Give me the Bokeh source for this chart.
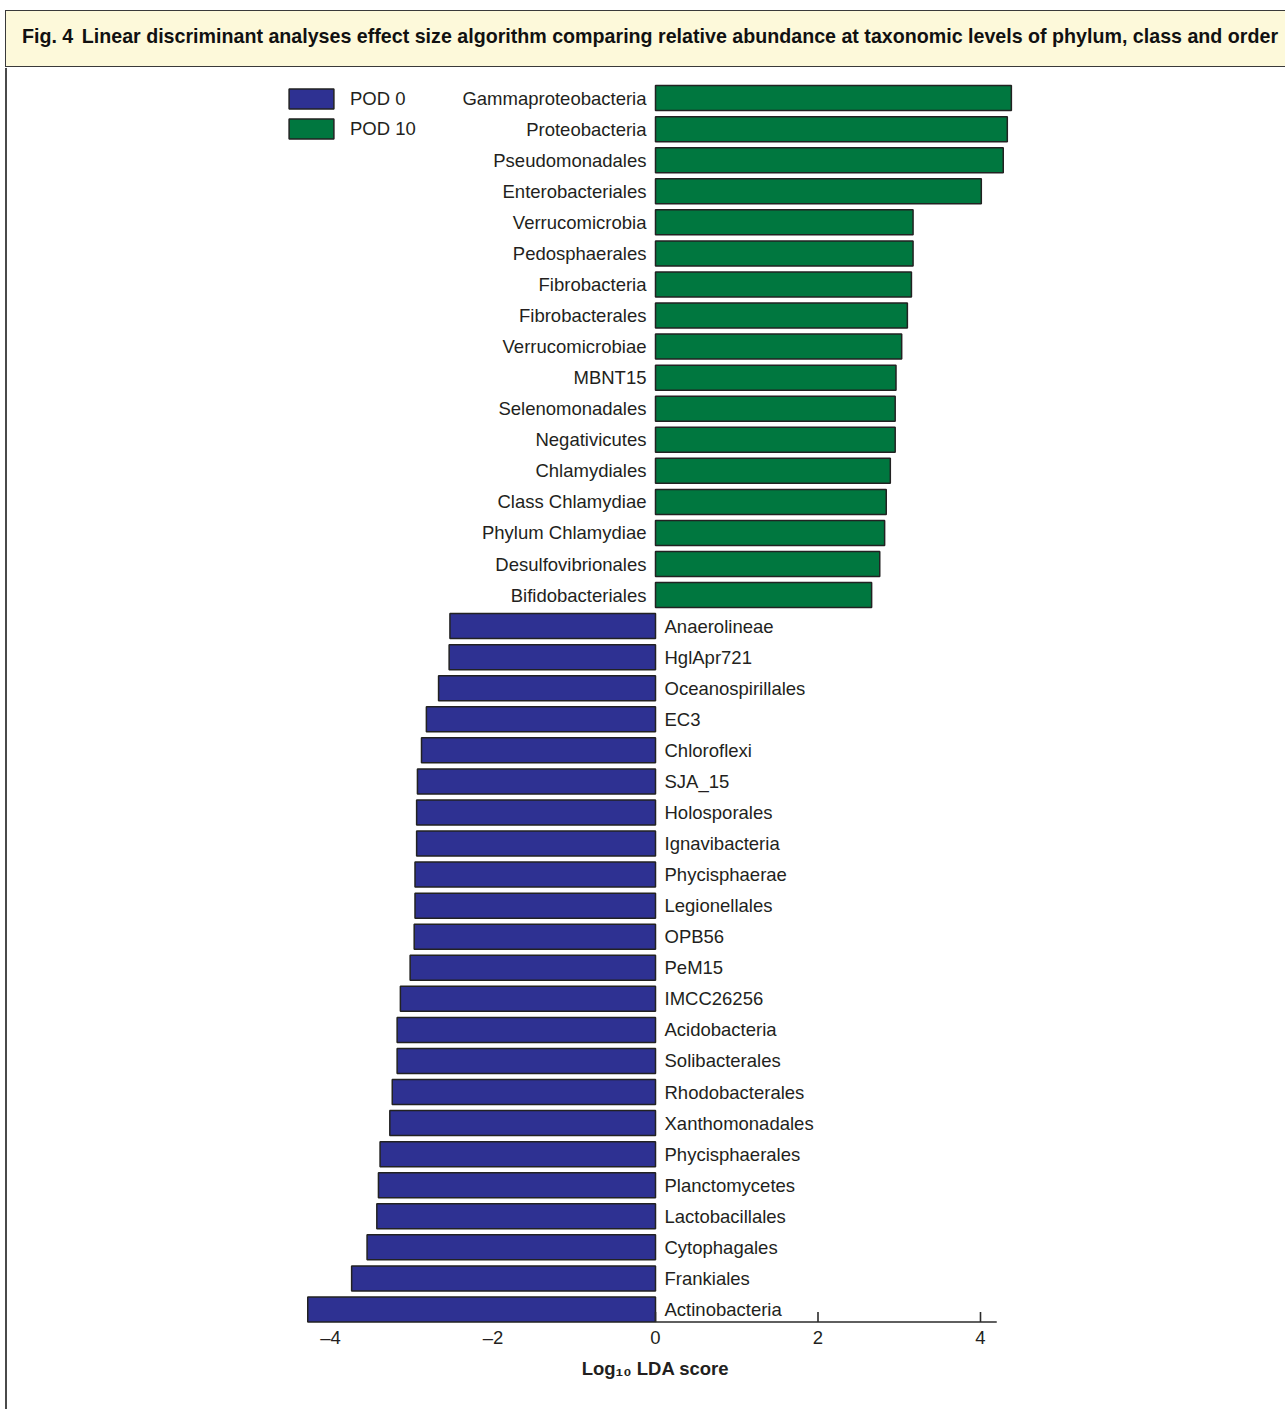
from bokeh.plotting import figure
from bokeh.models import (ColumnDataSource, Range1d, FixedTicker,
                          Legend, LegendItem, Div, Spacer)
from bokeh.layouts import column, row
from bokeh.embed import file_html
from bokeh.resources import INLINE
from bokeh.core.properties import value

# ---------------- data ----------------
title_text = ("Fig. 4 Linear discriminant analyses effect size algorithm comparing "
              "relative abundance at taxonomic levels of phylum, class and order")

pod10_taxa = ["Gammaproteobacteria", "Proteobacteria", "Pseudomonadales",
              "Enterobacteriales", "Verrucomicrobia", "Pedosphaerales",
              "Fibrobacteria", "Fibrobacterales", "Verrucomicrobiae", "MBNT15",
              "Selenomonadales", "Negativicutes", "Chlamydiales",
              "Class Chlamydiae", "Phylum Chlamydiae", "Desulfovibrionales",
              "Bifidobacteriales"]
pod10_scores = [4.38, 4.33, 4.28, 4.01, 3.17, 3.17, 3.15, 3.10, 3.03, 2.96,
                2.95, 2.95, 2.89, 2.84, 2.82, 2.76, 2.66]

pod0_taxa = ["Anaerolineae", "HglApr721", "Oceanospirillales", "EC3",
             "Chloroflexi", "SJA_15", "Holosporales", "Ignavibacteria",
             "Phycisphaerae", "Legionellales", "OPB56", "PeM15", "IMCC26256",
             "Acidobacteria", "Solibacterales", "Rhodobacterales",
             "Xanthomonadales", "Phycisphaerales", "Planctomycetes",
             "Lactobacillales", "Cytophagales", "Frankiales", "Actinobacteria"]
pod0_scores = [-2.53, -2.54, -2.67, -2.82, -2.88, -2.93, -2.94, -2.94, -2.96,
               -2.96, -2.97, -3.02, -3.14, -3.18, -3.18, -3.24, -3.27, -3.39,
               -3.41, -3.43, -3.55, -3.74, -4.28]

legend_labels = ["POD 0", "POD 10"]
x_ticks = [-4, -2, 0, 2, 4]
x_tick_labels = ["\u20134", "\u20132", "0", "2", "4"]
axis_title = "Log\u2081\u2080 LDA score"
axis_line_end = 4.2

# ---------------- style ----------------
FONT = "Liberation Sans"
GREEN = "#00773f"
BLUE = "#2e3192"
EDGE = "#222222"
TXT = "#231f20"
AXIS_C = "#2a2a2a"
LABEL_SIZE = "18.5px"
BAR_H = 0.805

n10 = len(pod10_taxa)
n0 = len(pod0_taxa)

src10 = ColumnDataSource(dict(y=list(range(n10)), left=[0] * n10,
                              right=pod10_scores, name=pod10_taxa))
src0 = ColumnDataSource(dict(y=list(range(n10, n10 + n0)), left=pod0_scores,
                             right=[0] * n0, name=pod0_taxa))

# layout geometry (pixels)
fig_w, fig_h = 1260, 1341
ppu_x = 81.25           # px per LDA unit
zero_px = 630           # position of 0 inside the frame
ppu_y = 31.06           # px per bar row
first_center_px = 29.6  # first bar centre from frame top
frame_h = 1256

x_start = -zero_px / ppu_x
x_end = (fig_w - zero_px) / ppu_x
y_top = -first_center_px / ppu_y
y_bot = y_top + frame_h / ppu_y

p = figure(width=fig_w, height=fig_h, output_backend="svg", toolbar_location=None,
           x_range=Range1d(x_start, x_end), y_range=Range1d(y_bot, y_top),
           min_border_left=0, min_border_right=0, min_border_top=0,
           min_border_bottom=int(fig_h - frame_h), y_axis_location=None)
p.grid.visible = False
p.outline_line_color = None
p.background_fill_color = "white"
p.border_fill_color = "white"

r0 = p.hbar(y="y", left="left", right="right", height=BAR_H, source=src0,
            fill_color=BLUE, line_color=EDGE, line_width=1.5)
r10 = p.hbar(y="y", left="left", right="right", height=BAR_H, source=src10,
             fill_color=GREEN, line_color=EDGE, line_width=1.5)

p.text(x=0, y="y", text="name", source=src10, x_offset=-9, text_align="right",
       text_baseline="middle", text_font=value(FONT), text_font_size=LABEL_SIZE,
       text_color=TXT)
p.text(x=0, y="y", text="name", source=src0, x_offset=9, text_align="left",
       text_baseline="middle", text_font=value(FONT), text_font_size=LABEL_SIZE,
       text_color=TXT)

# axis line (positive side only) with upward ticks, at the bottom of the last bar
y_axis = (n10 + n0 - 1) + BAR_H / 2
pos_ticks = [t for t in x_ticks if t >= 0]
p.segment(x0=[0], x1=[axis_line_end], y0=[y_axis], y1=[y_axis],
          line_color=AXIS_C, line_width=1.6)
p.segment(x0=pos_ticks, x1=pos_ticks, y0=[y_axis] * len(pos_ticks),
          y1=[y_axis - 10 / ppu_y] * len(pos_ticks), line_color=AXIS_C, line_width=1.6)

ax = p.xaxis[0]
ax.ticker = FixedTicker(ticks=x_ticks)
ax.major_label_overrides = dict(zip(x_ticks, x_tick_labels))
ax.axis_line_color = None
ax.major_tick_line_color = None
ax.minor_tick_line_color = None
ax.major_tick_in = 0
ax.major_tick_out = 0
ax.major_label_standoff = 2
ax.major_label_text_font = FONT
ax.major_label_text_font_size = LABEL_SIZE
ax.major_label_text_color = TXT
ax.axis_label = axis_title
ax.axis_label_standoff = 7
ax.axis_label_text_font = FONT
ax.axis_label_text_font_size = "18.5px"
ax.axis_label_text_font_style = "bold"
ax.axis_label_text_color = TXT

legend = Legend(items=[LegendItem(label=legend_labels[0], renderers=[r0]),
                       LegendItem(label=legend_labels[1], renderers=[r10])],
                location=(258, 1183), orientation="vertical",
                glyph_width=56, glyph_height=25, label_height=25, spacing=5,
                label_standoff=11, padding=0, margin=0,
                border_line_color=None, background_fill_alpha=0,
                label_text_font=FONT, label_text_font_size=LABEL_SIZE,
                label_text_color=TXT)
p.add_layout(legend)

banner_html = (
    '<div style="margin:10px 0 0 5px; width:1280px; height:57px; box-sizing:border-box;'
    ' border:1.5px solid #3a3a3a; border-right:none; background:#fdf9da;'
    " font-family:'Liberation Sans',Arial,sans-serif; font-weight:bold; font-size:19.65px;"
    ' padding:11px 0 0 16px; color:#111; white-space:nowrap; overflow:hidden;">'
    + title_text.replace("Fig. 4 ", '<span style="margin-right:3px">Fig. 4</span> ')
    + '</div>')
banner = Div(text=banner_html, width=1285, height=68, margin=0)

left_line = Spacer(width=2, height=fig_h, margin=0,
                   styles={"background-color": "#4a4a4a"})
layout = column(banner,
                row(Spacer(width=5, height=fig_h, margin=0), left_line,
                    Spacer(width=18, height=fig_h, margin=0), p),
                spacing=0)

open("out.html", "w").write(file_html(layout, INLINE))
